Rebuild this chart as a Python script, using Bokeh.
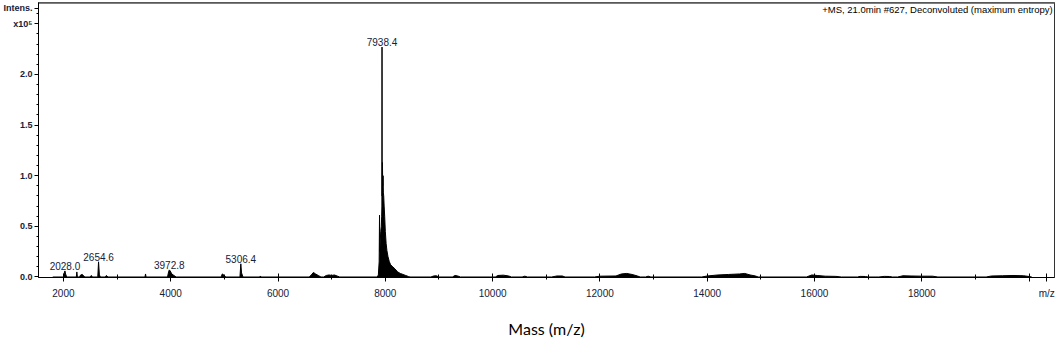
from bokeh.plotting import figure
from bokeh.models import (FixedTicker, Label, LabelSet, ColumnDataSource, Range1d)
from bokeh.core.properties import value
from bokeh.embed import file_html
from bokeh.resources import INLINE

# ---- data (intensity in units of 1e5) ----
mass = [1800, 2000, 2015, 2028.0, 2040, 2060,
        2240, 2250, 2260, 2300, 2320, 2350, 2380, 2400,
        2500, 2520, 2540, 2640, 2654.6, 2670, 2690, 2780, 2800, 2830,
        3520, 3530, 3540,
        3940, 3960, 3972.8, 3990, 4020, 4060, 4100,
        4940, 4960, 4980, 5000, 5030,
        5290, 5306.4, 5320, 5340, 5360, 5660, 5670, 5680,
        6580, 6620, 6660, 6700, 6750, 6800,
        6850, 6900, 6950, 7000, 7050, 7100, 7150,
        7850, 7870, 7885, 7892, 7898, 7905, 7915, 7925, 7932, 7936, 7938.4, 7941,
        7946, 7952, 7958, 7964, 7970, 7978, 7988, 8000, 8015, 8030, 8050, 8075,
        8100, 8140, 8180, 8230, 8280, 8330, 8380, 8430, 8460,
        8850, 8900, 8950, 9000, 9250, 9300, 9350, 9400,
        10050, 10100, 10200, 10300, 10350, 10550, 10600, 10650,
        11100, 11200, 11300, 11350,
        11900, 12000, 12300, 12400, 12500, 12600, 12700, 12750, 12850, 12900, 12950,
        13900, 14000, 14200, 14400, 14600, 14700, 14800, 14900, 14950,
        15850, 15950, 16050, 16200, 16400, 16500,
        16800, 16850, 16950, 17000, 17200, 17300, 17400, 17450,
        17550, 17650, 17800, 18000, 18200, 18300,
        19200, 19300, 19500, 19700, 19900, 20000, 20050]
intens = [0, 0, 0.04, 0.06, 0.03, 0,
          0, 0.05, 0, 0, 0.02, 0.025, 0.01, 0,
          0, 0.015, 0, 0, 0.15, 0.02, 0, 0, 0.015, 0,
          0, 0.03, 0,
          0, 0.05, 0.07, 0.06, 0.03, 0.015, 0,
          0, 0.03, 0.025, 0.01, 0,
          0, 0.13, 0.04, 0.01, 0, 0, 0.01, 0,
          0, 0.02, 0.045, 0.03, 0.015, 0,
          0, 0.015, 0.02, 0.015, 0.02, 0.01, 0,
          0, 0.02, 0.15, 0.61, 0.25, 0.35, 0.45, 0.5, 0.6, 0.7, 2.27, 0.8,
          1.13, 0.9, 1.0, 0.83, 0.8, 0.7, 0.6, 0.45, 0.33, 0.26, 0.2, 0.15,
          0.12, 0.1, 0.08, 0.05, 0.035, 0.025, 0.015, 0.005, 0,
          0, 0.01, 0.012, 0, 0, 0.015, 0.01, 0,
          0, 0.015, 0.018, 0.01, 0, 0, 0.008, 0,
          0, 0.01, 0.01, 0,
          0, 0.008, 0.01, 0.03, 0.035, 0.025, 0.01, 0, 0, 0.008, 0,
          0, 0.01, 0.02, 0.025, 0.03, 0.035, 0.02, 0.01, 0,
          0, 0.02, 0.015, 0.008, 0.006, 0,
          0, 0.006, 0.005, 0, 0, 0.006, 0.005, 0,
          0, 0.012, 0.01, 0.008, 0.008, 0,
          0, 0.01, 0.012, 0.015, 0.012, 0.005, 0]

peak_mass = [2028.0, 2654.6, 3972.8, 5306.4, 7938.4]
peak_int = [0.06, 0.15, 0.07, 0.13, 2.27]
peak_text = ["2028.0", "2654.6", "3972.8", "5306.4", "7938.4"]

x_ticks = [2000, 4000, 6000, 8000, 10000, 12000, 14000, 16000, 18000, 20000, 20330]
x_labels = {20000: "", 20330: "m/z"}
x_minor = [3000, 5000, 7000, 9000, 11000, 13000, 15000, 17000, 19000]
y_ticks = [0.0, 0.5, 1.0, 1.5, 2.0, 2.5, 2.655]
y_labels = {0.0: "0.0", 0.5: "0.5", 1.0: "1.0", 1.5: "1.5", 2.0: "2.0",
            2.5: "x10\u2075", 2.655: "Intens."}
y_minor = [0.1, 0.2, 0.3, 0.4, 0.6, 0.7, 0.8, 0.9, 1.1, 1.2, 1.3, 1.4,
           1.6, 1.7, 1.8, 1.9, 2.1, 2.2, 2.3, 2.4, 2.6]

title_text = "+MS, 21.0min #627, Deconvoluted (maximum entropy)"
x_title = "Mass (m/z)"

FONT = "Liberation Sans"
TXT = "#14213a"

p = figure(width=1059, height=341, output_backend="svg", toolbar_location=None,
           x_range=Range1d(1535, 20474), y_range=Range1d(-0.005, 2.71),
           min_border_left=36, min_border_right=5, min_border_top=2, min_border_bottom=64)
p.background_fill_color = "white"
p.border_fill_color = "white"
p.outline_line_color = "#333333"
p.outline_line_width = 1
p.xgrid.visible = False
p.ygrid.visible = False

src = ColumnDataSource(dict(x=mass, y=intens))
p.varea(x="x", y1=0, y2="y", source=src, fill_color="black")
p.line(x="x", y="y", source=src, line_color="black", line_width=1)

# top grey band of the frame
p.line(x=[1535, 20474], y=[2.71, 2.71], line_color="#7f7f7f", line_width=3)

lab_src = ColumnDataSource(dict(x=peak_mass, y=peak_int, t=peak_text))
p.add_layout(LabelSet(x="x", y="y", text="t", source=lab_src, text_align="center",
                      text_baseline="bottom", y_offset=1, text_font=value(FONT),
                      text_font_size="10px", text_color=TXT))

xa = p.xaxis[0]
xa.ticker = FixedTicker(ticks=x_ticks, minor_ticks=x_minor)
xa.major_label_overrides = x_labels
xa.major_label_text_font = FONT
xa.major_label_text_font_size = "10px"
xa.major_label_text_color = TXT
xa.major_label_standoff = 6
xa.major_tick_in = 4
xa.major_tick_out = 4
xa.minor_tick_in = 3
xa.minor_tick_out = 2
xa.axis_line_color = "black"
xa.axis_label = x_title
xa.axis_label_text_font = "Lato"
xa.axis_label_text_font_style = "normal"
xa.axis_label_text_font_size = "16px"
xa.axis_label_text_color = "black"
xa.axis_label_standoff = 17

ya = p.yaxis[0]
ya.ticker = FixedTicker(ticks=y_ticks, minor_ticks=y_minor)
ya.formatter.use_scientific = False
ya.major_label_overrides = y_labels
ya.major_label_text_font = FONT
ya.major_label_text_font_size = "9px"
ya.major_label_text_font_style = "bold"
ya.major_label_text_color = TXT
ya.major_label_standoff = 2
ya.major_tick_in = 0
ya.major_tick_out = 4
ya.minor_tick_in = 0
ya.minor_tick_out = 2
ya.axis_line_color = "black"

p.add_layout(Label(x=20440, y=2.70, text=title_text, text_align="right", text_baseline="top",
                   text_font=FONT, text_font_size="9.5px", text_color="black"))

open("out.html", "w").write(file_html(p, INLINE))
